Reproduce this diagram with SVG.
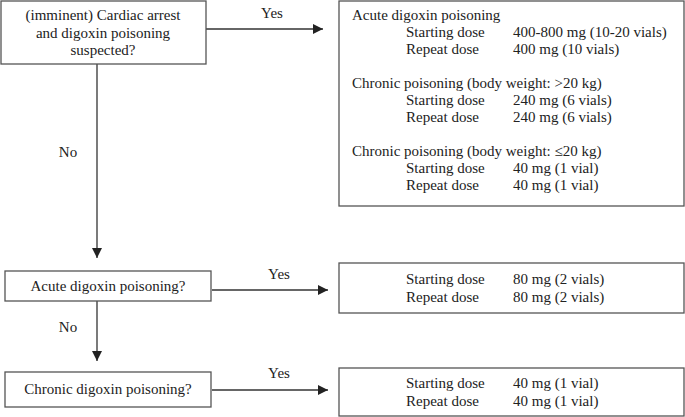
<svg xmlns="http://www.w3.org/2000/svg" width="685" height="417" viewBox="0 0 685 417">
<defs>
<marker id="ah" viewBox="0 0 10 10" refX="10" refY="5" markerWidth="10" markerHeight="10" markerUnits="userSpaceOnUse" orient="auto">
<path d="M0,0 L10,5 L0,10 z" fill="#222"/>
</marker>
</defs>
<style>
.box{fill:#fff;stroke:#555;stroke-width:1.3}
.ln{fill:none;stroke:#333;stroke-width:1.3;marker-end:url(#ah)}
text{font-family:"Liberation Serif","Times New Roman",serif;font-size:15px;fill:#222}
.c{text-anchor:middle}
</style>
<rect width="685" height="417" fill="#fff"/>
<g id="connectors">
<path class="ln" d="M206,29 H323"/>
<path class="ln" d="M97,64 V258"/>
<path class="ln" d="M212,290 H328"/>
<path class="ln" d="M97,301 V361"/>
<path class="ln" d="M212,390 H328"/>
<text class="c" x="272" y="18">Yes</text>
<text class="c" x="68" y="157">No</text>
<text class="c" x="279" y="279">Yes</text>
<text class="c" x="68" y="332">No</text>
<text class="c" x="279" y="378">Yes</text>
</g>
<g id="q1">
<rect class="box" x="1" y="1" width="205" height="63"/>
<text class="c" x="103" y="20">(imminent) Cardiac arrest</text>
<text class="c" x="103" y="37.5">and digoxin poisoning</text>
<text class="c" x="103" y="55">suspected?</text>
</g>
<g id="r1">
<rect class="box" x="339" y="1" width="345" height="205"/>
<text x="352" y="20">Acute digoxin poisoning</text>
<text x="406" y="37">Starting dose</text>
<text x="513" y="37">400-800 mg (10-20 vials)</text>
<text x="406" y="54">Repeat dose</text>
<text x="513" y="54">400 mg (10 vials)</text>
<text x="352" y="88">Chronic poisoning (body weight: &gt;20 kg)</text>
<text x="406" y="105">Starting dose</text>
<text x="513" y="105">240 mg (6 vials)</text>
<text x="406" y="122">Repeat dose</text>
<text x="513" y="122">240 mg (6 vials)</text>
<text x="352" y="156">Chronic poisoning (body weight: ≤20 kg)</text>
<text x="406" y="173">Starting dose</text>
<text x="513" y="173">40 mg (1 vial)</text>
<text x="406" y="190">Repeat dose</text>
<text x="513" y="190">40 mg (1 vial)</text>
</g>
<g id="q2">
<rect class="box" x="5" y="271" width="206" height="30"/>
<text class="c" x="108" y="291">Acute digoxin poisoning?</text>
</g>
<g id="r2">
<rect class="box" x="339" y="263" width="345" height="50"/>
<text x="406" y="284">Starting dose</text>
<text x="513" y="284">80 mg (2 vials)</text>
<text x="406" y="302">Repeat dose</text>
<text x="513" y="302">80 mg (2 vials)</text>
</g>
<g id="q3">
<rect class="box" x="5" y="372" width="206" height="35"/>
<text class="c" x="108" y="394">Chronic digoxin poisoning?</text>
</g>
<g id="r3">
<rect class="box" x="339" y="368" width="345" height="48"/>
<text x="406" y="388">Starting dose</text>
<text x="513" y="388">40 mg (1 vial)</text>
<text x="406" y="406">Repeat dose</text>
<text x="513" y="406">40 mg (1 vial)</text>
</g>
</svg>
